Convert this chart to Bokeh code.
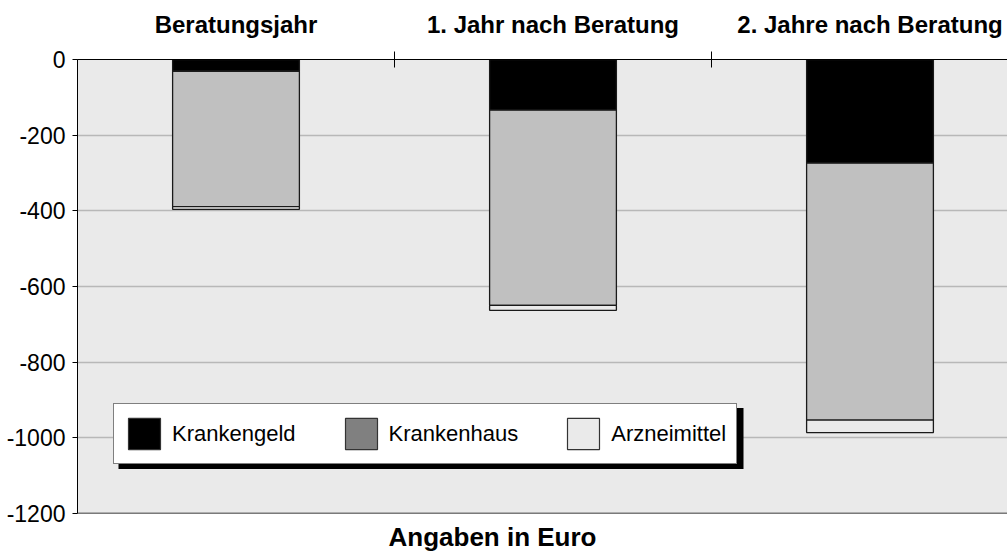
from bokeh.plotting import figure
from bokeh.models import (Range1d, FixedTicker, Legend, LegendItem,
                          BoxAnnotation, Title, Span)
from bokeh.embed import file_html
from bokeh.resources import INLINE

# ---- data ----
categories = ["Beratungsjahr", "1. Jahr nach Beratung", "2. Jahre nach Beratung"]
series = ["Krankengeld", "Krankenhaus", "Arzneimittel"]
krankengeld = [31, 134, 274]
krankenhaus = [358, 516, 679]
arzneimittel = [7, 13, 33]
y_ticks = [0, -200, -400, -600, -800, -1000, -1200]
x_label = "Angaben in Euro"

bar_colors = ["#000000", "#c0c0c0", "#eaeaea"]
legend_colors = ["#000000", "#808080", "#eaeaea"]

FONT = "Liberation Sans"
ML, MT, MB = 77, 59, 46
FW, FH = 930, 454
PX_PER_CAT = 317.0
x_end = FW / PX_PER_CAT
Y_MIN = -1200

p = figure(frame_width=FW, frame_height=FH, output_backend="svg", toolbar_location=None,
           x_range=Range1d(0, x_end), y_range=Range1d(Y_MIN, 0),
           x_axis_location="above", min_border_left=ML, min_border_right=0,
           min_border_top=MT, min_border_bottom=MB)
p.background_fill_color = "#eaeaea"
p.border_fill_color = "white"
p.outline_line_color = None

# stacked bars (negative)
xs = [i + 0.5 for i in range(len(categories))]
stacks = [krankengeld, krankenhaus, arzneimittel]
cum = [0.0] * len(categories)
for vals, col in zip(stacks, bar_colors):
    tops = list(cum)
    bottoms = [c - v for c, v in zip(cum, vals)]
    p.vbar(x=xs, width=0.4, top=tops, bottom=bottoms, fill_color=col,
           line_color="#1a1a1a", line_width=1.3)
    cum = bottoms

# legend swatch renderers (placed outside the visible range)
leg_renderers = []
for col in legend_colors:
    r = p.vbar(x=[-10], width=0.4, top=[0], bottom=[-1], fill_color=col,
               line_color="#333333", line_width=1.2)
    leg_renderers.append(r)

# top category axis
ax = p.xaxis[0]
ax.ticker = FixedTicker(ticks=xs, minor_ticks=[1, 2])
ax.major_label_overrides = {x: c for x, c in zip(xs, categories)}
ax.major_tick_line_color = None
ax.major_tick_in = 0
ax.major_tick_out = 0
ax.minor_tick_in = 8
ax.minor_tick_out = 8
ax.minor_tick_line_color = "black"
ax.axis_line_color = "black"
ax.major_label_text_font = FONT
ax.major_label_text_font_style = "bold"
ax.major_label_text_font_size = "24px"
ax.major_label_text_color = "black"
ax.major_label_standoff = 14

# bottom frame line
p.add_layout(Span(location=Y_MIN, dimension="width", line_color="black", line_width=1.6))

# y axis
ya = p.yaxis[0]
ya.ticker = FixedTicker(ticks=y_ticks)
ya.major_label_overrides = {v: str(v) for v in y_ticks}
ya.major_tick_in = 0
ya.major_tick_out = 5
ya.minor_tick_line_color = None
ya.axis_line_color = "black"
ya.major_tick_line_color = "black"
ya.major_label_text_font = FONT
ya.major_label_text_font_size = "23px"
ya.major_label_text_color = "black"
ya.major_label_standoff = 7

p.xgrid.grid_line_color = None
p.ygrid.ticker = FixedTicker(ticks=y_ticks)
p.ygrid.grid_line_color = "#b8b8b8"
p.ygrid.grid_line_width = 1.4

# legend shadow (data units derived from pixel layout)
ppu_y = FH / (0 - Y_MIN)
BOX_X, BOX_Y, BOX_W, BOX_H = 37, 48.5, 625, 61   # legend box, px from frame bottom-left
SH = 4
shadow = BoxAnnotation(left=(BOX_X + SH) / PX_PER_CAT,
                       right=(BOX_X + BOX_W + SH) / PX_PER_CAT,
                       bottom=Y_MIN + (BOX_Y - SH) / ppu_y,
                       top=Y_MIN + (BOX_Y + BOX_H - SH) / ppu_y,
                       fill_color="black", fill_alpha=1, line_color=None)
p.add_layout(shadow)

legend = Legend(items=[LegendItem(label=s, renderers=[r]) for s, r in zip(series, leg_renderers)],
                orientation="horizontal", location=(BOX_X - 1, BOX_Y + 0.5), margin=0,
                padding=10, spacing=45, label_standoff=8,
                glyph_width=40, glyph_height=39,
                label_text_font=FONT, label_text_font_size="22px",
                label_text_color="black",
                border_line_color="black", border_line_width=1,
                background_fill_color="white", background_fill_alpha=1)
p.add_layout(legend, "center")

# bottom caption
p.add_layout(Title(text=x_label, align="left", offset=311, standoff=12,
                   text_font=FONT, text_font_style="bold", text_font_size="26px",
                   text_color="black"), "below")

open("out.html", "w").write(file_html(p, INLINE))
